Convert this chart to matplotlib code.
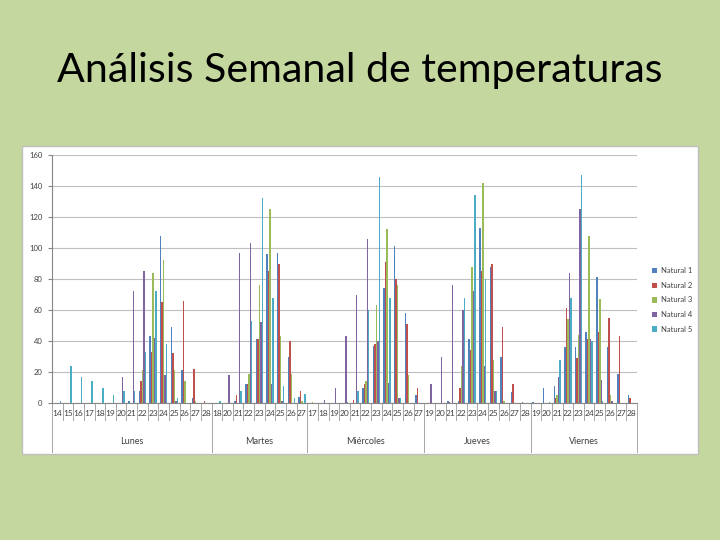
import matplotlib
matplotlib.use("Agg")
import matplotlib.pyplot as plt
import numpy as np
from matplotlib.patches import Rectangle, Patch
from matplotlib.transforms import blended_transform_factory

plt.rcParams['font.family'] = ['Lato', 'DejaVu Sans']

title = "Análisis Semanal de temperaturas"
days = ["Lunes", "Martes", "Miércoles", "Jueves", "Viernes"]
lunes_hours = [14, 15, 16, 17, 18, 19, 20, 21, 22, 23, 24, 25, 26, 27, 28]
martes_hours = [18, 20, 21, 22, 23, 24, 25, 26, 27]
miercoles_hours = [17, 18, 19, 20, 21, 22, 23, 24, 25, 26, 27]
jueves_hours = [19, 20, 21, 22, 23, 24, 25, 26, 27, 28]
viernes_hours = [19, 20, 21, 22, 23, 24, 25, 26, 27, 28]

series_names = ["Natural 1", "Natural 2", "Natural 3", "Natural 4", "Natural 5"]
series_colors = ["#4F81BD", "#C0504D", "#9BBB59", "#8064A2", "#4BACC6"]

# values per series, ordered Lunes | Martes | Miércoles | Jueves | Viernes
natural_1 = ([0, 0, 0, 0, 0, 0, 0, 1, 8, 43, 108, 49, 21, 3, 0]
             + [0, 0, 1, 12, 41, 96, 97, 30, 4]
             + [0, 0, 0, 0, 0, 10, 37, 74, 101, 58, 5]
             + [0, 0, 1, 1, 41, 113, 88, 30, 7, 0.5]
             + [0.5, 10, 11, 36, 36, 46, 81, 36, 19, 5])
natural_2 = ([0, 0, 0, 0, 0, 0, 0, 0, 14, 33, 65, 32, 66, 22, 1]
             + [0, 0, 5, 12, 41, 85, 90, 40, 8]
             + [0, 0, 0, 0, 2, 12, 38, 91, 80, 51, 10]
             + [0, 0, 0.5, 10, 34, 85, 90, 49, 12, 0]
             + [0, 0, 3, 61, 29, 41, 46, 55, 43, 3])
natural_3 = ([0, 0, 0, 0, 0, 0, 0, 0, 21, 84, 92, 21, 14, 1, 0]
             + [0, 0, 0, 19, 76, 125, 43, 19, 1]
             + [0.5, 0, 0, 0, 0, 14, 63, 112, 76, 18, 0]
             + [0, 0, 0, 24, 88, 142, 28, 1, 0, 0]
             + [0, 0, 5, 54, 44, 108, 67, 5, 0, 0])
natural_4 = ([0, 0, 0, 0, 0, 0, 17, 72, 85, 42, 18, 1, 0, 0, 0]
             + [0, 18, 97, 103, 52, 12, 1, 0, 0]
             + [0, 2, 10, 43, 70, 106, 40, 13, 3, 0, 0]
             + [12, 30, 76, 60, 72, 24, 8, 0, 0, 0]
             + [0, 0, 17, 84, 125, 41, 15, 1, 0, 0])
natural_5 = ([1, 24, 17, 14, 10, 5, 8, 8, 33, 72, 38, 3, 0, 0, 0]
             + [1, 0, 8, 53, 132, 68, 11, 3, 6]
             + [0, 0, 0, 0.5, 8, 60, 146, 68, 3, 0, 0]
             + [0, 0, 0, 68, 134, 80, 8, 0, 0, 0]
             + [0, 0.5, 28, 68, 147, 40, 1, 0, 0, 0])

groups = [lunes_hours, martes_hours, miercoles_hours, jueves_hours, viernes_hours]
hour_labels = [str(h) for g in groups for h in g]
series = [natural_1, natural_2, natural_3, natural_4, natural_5]

W, H = 720, 540
fig = plt.figure(figsize=(7.2, 5.4), dpi=100)
fig.patch.set_facecolor("#C4D79E")

fig.text(360 / W, 1 - 82 / H, title, ha="center", va="baseline",
         fontsize=29.6, color="black")

# chart area
fig.patches.append(Rectangle((22 / W, 1 - 454 / H), 676 / W, 308 / H,
                             transform=fig.transFigure, facecolor="white",
                             edgecolor="#BFBFBF", linewidth=1, zorder=0))

left, right, top, bottom = 52, 637, 155, 403
ax = fig.add_axes([left / W, 1 - bottom / H, (right - left) / W, (bottom - top) / H])
ax.set_zorder(2)
ax.patch.set_alpha(0)

n = len(hour_labels)
x = np.arange(n)
bw = 0.14
for k, (vals, name, col) in enumerate(zip(series, series_names, series_colors)):
    ax.bar(x + (k - 2) * bw, vals, width=bw, color=col, label=name, zorder=3,
           linewidth=0)

ax.set_xlim(-0.5, n - 0.5)
ax.set_ylim(0, 160)
ax.set_yticks(np.arange(0, 161, 20))
ax.yaxis.grid(True, color="#BFBFBF", linewidth=0.8)
ax.set_axisbelow(True)
ax.tick_params(axis="y", labelsize=5.5, length=3, color="#868686",
               labelcolor="#404040", pad=4)
ax.set_xticks(x)
ax.set_xticklabels(hour_labels, fontsize=6, color="#404040")
ax.tick_params(axis="x", length=0, pad=5)
for s in ["top", "right"]:
    ax.spines[s].set_visible(False)
for s in ["left", "bottom"]:
    ax.spines[s].set_color("#868686")
    ax.spines[s].set_linewidth(0.8)

trans = blended_transform_factory(ax.transData, ax.transAxes)
short = -17 / (bottom - top)
long_ = -49 / (bottom - top)
bounds = [0]
for g in groups:
    bounds.append(bounds[-1] + len(g))
for i in range(n + 1):
    yb = long_ if i in bounds else short
    ax.plot([i - 0.5, i - 0.5], [0, yb], transform=trans, color="#A6A6A6",
            linewidth=0.7, clip_on=False, zorder=1)
for d, a, b in zip(days, bounds[:-1], bounds[1:]):
    ax.text((a + b - 1) / 2, -38 / (bottom - top), d, transform=trans,
            ha="center", va="center", fontsize=6.5, color="#404040")

handles = [Patch(facecolor=c, edgecolor="none") for c in series_colors]
fig.legend(handles, series_names, loc="center left",
           bbox_to_anchor=(645 / W, 1 - 300 / H), frameon=False, fontsize=5.5,
           handlelength=0.7, handleheight=0.7, labelspacing=1.0,
           handletextpad=0.5, labelcolor="#404040")

fig.savefig("out.png", dpi=100, facecolor=fig.get_facecolor())
